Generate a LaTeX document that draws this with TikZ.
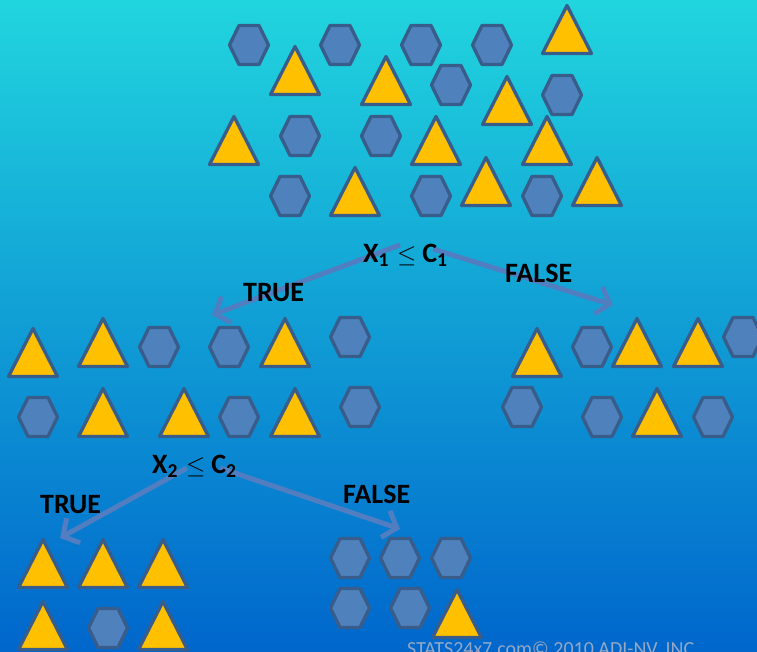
\documentclass[tikz,border=0pt]{standalone}
\usepackage{fontspec}
\setmainfont{Carlito}
\usetikzlibrary{arrows.meta}
\definecolor{skytop}{RGB}{33,213,222}
\definecolor{skymid}{RGB}{12,152,226}
\definecolor{skybottom}{RGB}{0,102,204}
\definecolor{hexblue}{RGB}{79,129,189}
\definecolor{edgeblue}{RGB}{56,93,138}
\definecolor{trigold}{RGB}{255,192,0}
\definecolor{linkblue}{RGB}{80,126,192}
\definecolor{markgray}{RGB}{150,168,196}
\pgfdeclarelayer{backdrop}
\pgfdeclarelayer{links}
\pgfsetlayers{backdrop,links,main}

\begin{document}
\begin{tikzpicture}[x=1pt,y=-1pt,
    hexline/.style={draw=edgeblue,fill=hexblue,line width=3.3pt,line join=round},
    triline/.style={draw=edgeblue,fill=trigold,line width=3.3pt,line join=round},
    hexa/.pic={\path[hexline] (-19.5,0) -- (-10,-19.5) -- (10,-19.5) -- (19.5,0) -- (10,19.5) -- (-10,19.5) -- cycle;},
    tria/.pic={\path[triline] (-24.5,-1.5) -- (24.5,-1.5) -- (0,-49.5) -- cycle;},
    verdict/.style={anchor=base west,inner sep=0pt,font=\bfseries\fontsize{28}{30}\selectfont},
    branch/.style={draw=linkblue,line width=5pt,-{Straight Barb[length=12pt,width=28pt]}}]
  \begin{pgfonlayer}{backdrop}
    \shade[top color=skytop,middle color=skymid,bottom color=skybottom] (0,0) rectangle (757,652);
  \end{pgfonlayer}
  \useasboundingbox (0,0) rectangle (757,652);

  % root sample
  \foreach \p in {(249,45),(340,45),(421,45),(492,45),(451,85),(562,95),
                  (300,136),(381,136),(290,196),(431,196),(542,196)}
    \pic at \p {hexa};
  \foreach \p in {(567,55),(295,96),(386,106),(507,126),(234,166),
                  (436,166),(547,166),(355,217),(486,207),(597,207)}
    \pic at \p {tria};

  % first split, true side
  \foreach \p in {(159,347),(229,347),(350,337),(38,417),(239,417),(360,407)}
    \pic at \p {hexa};
  \foreach \p in {(33,378),(103,368),(285,368),(103,438),(184,438),(295,438)}
    \pic at \p {tria};

  % first split, false side
  \foreach \p in {(592,347),(743,337),(522,407),(602,417),(713,417)}
    \pic at \p {hexa};
  \foreach \p in {(537,378),(637,368),(698,368),(657,438)}
    \pic at \p {tria};

  % second split, true side
  \pic at (108,628) {hexa};
  \foreach \p in {(43,589),(103,589),(163,589),(43,651),(163,651)}
    \pic at \p {tria};

  % second split, false side
  \foreach \p in {(350,558),(400,558),(451,558),(350,608),(410,608)}
    \pic at \p {hexa};
  \pic at (457,639) {tria};

  % rules and outcomes
  \node[verdict] (split1) at (363,262) {X\textsubscript{1}\hspace{8pt}$\leq$\hspace{6pt}C\textsubscript{1}};
  \node[verdict] (yes1) at (243,301) {TRUE};
  \node[verdict] (no1) at (505,282) {FALSE};
  \node[verdict] (split2) at (152,473) {X\textsubscript{2}\hspace{8pt}$\leq$\hspace{6pt}C\textsubscript{2}};
  \node[verdict] (yes2) at (40,513) {TRUE};
  \node[verdict] (no2) at (343,503) {FALSE};
  \coordinate (tipyes1) at (212,315);
  \coordinate (tipno1) at (613,305);
  \coordinate (tipyes2) at (60,538);
  \coordinate (tipno2) at (400,529);

  \begin{pgfonlayer}{links}
    \draw[branch] ([shift={(37,-17)}]split1.base west) -- (tipyes1);
    \draw[branch] ([shift={(70,-13)}]split1.base west) -- (tipno1);
    \draw[branch] ([shift={(35,-5)}]split2.base west) -- (tipyes2);
    \draw[branch] ([shift={(68,-5)}]split2.base west) -- (tipno2);
  \end{pgfonlayer}

  \node[anchor=base west,inner sep=0pt,text=markgray,font=\fontsize{20}{22}\selectfont] (mark) at (407,655)
    {STATS24x7.com\textcopyright{} 2010 ADI-NV, INC.};
\end{tikzpicture}
\end{document}
